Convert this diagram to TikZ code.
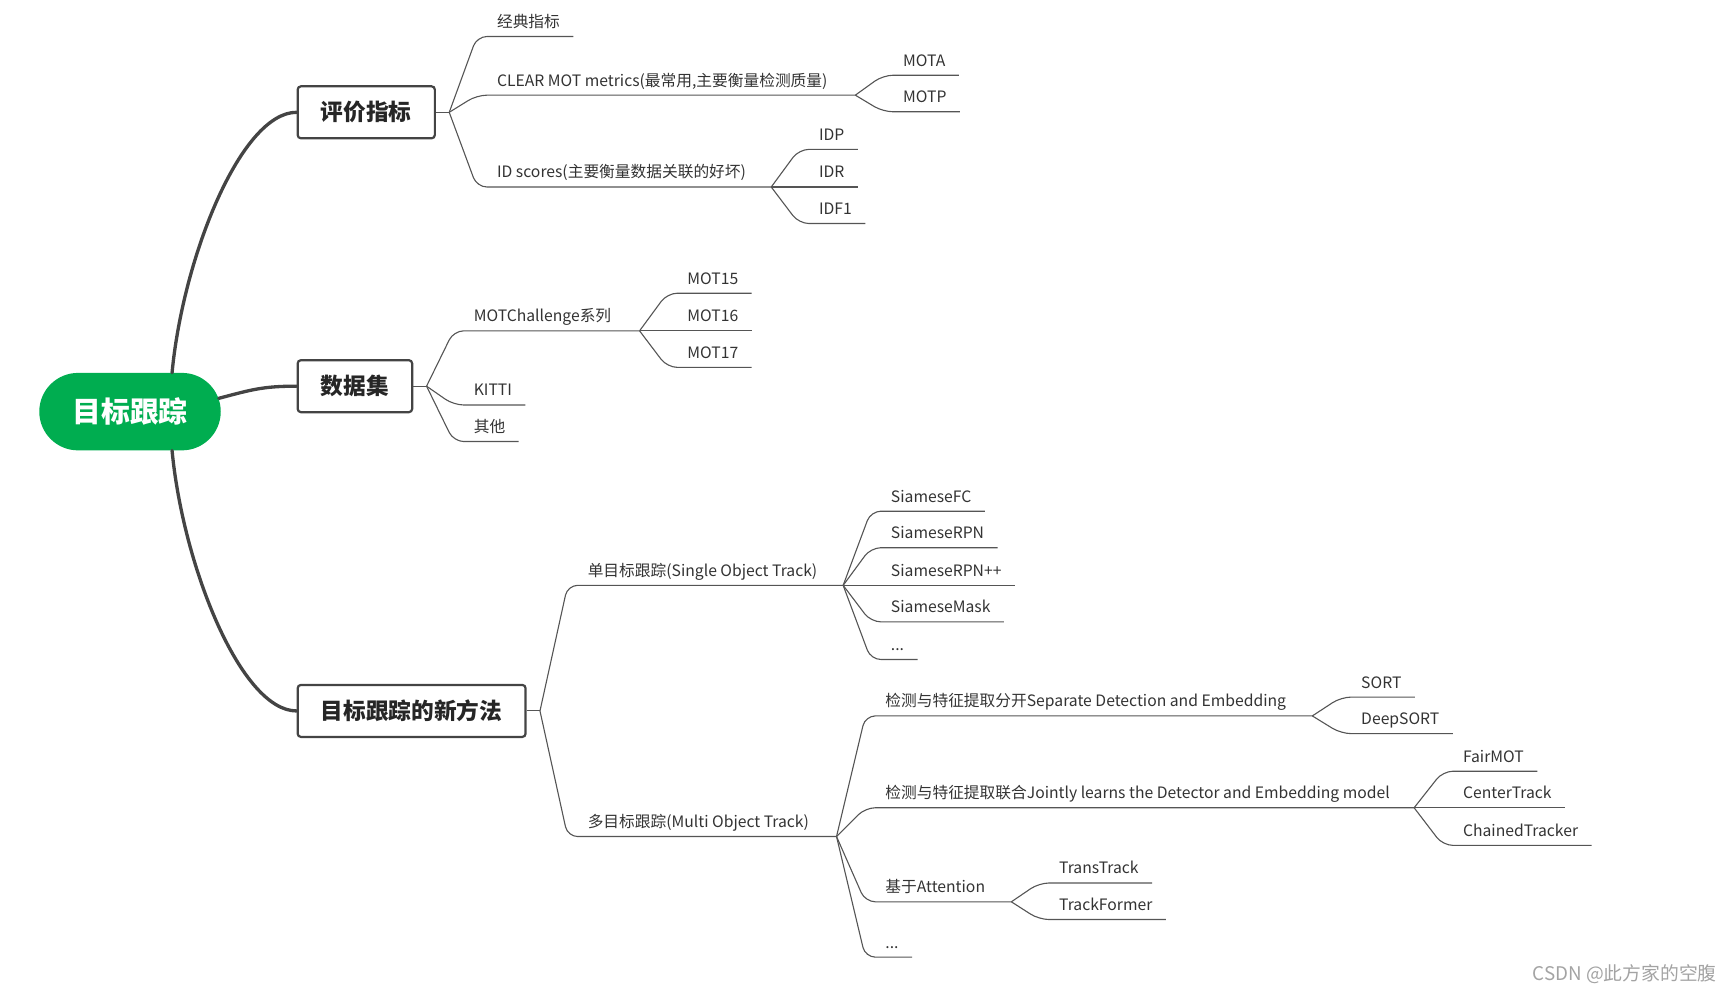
\documentclass[tikz,border=0pt]{standalone}
\usepackage{fontspec}
\setmainfont{Noto Sans CJK SC}
\usepackage{tikz}
\usetikzlibrary{calc}
\definecolor{rootgreen}{HTML}{00AD50}
\definecolor{inkgray}{HTML}{333333}
\definecolor{boxink}{HTML}{262626}
\definecolor{linegray}{HTML}{444444}
\definecolor{twiggray}{HTML}{555555}
\definecolor{markgray}{HTML}{A3A3A3}

\begin{document}
\begin{tikzpicture}[x=1pt, y=-1pt,
    root/.style={fill=rootgreen, text=white, rounded corners=35pt,
      minimum height=70pt, inner xsep=30pt,
      font=\fontsize{26}{30}\selectfont\bfseries},
    topic/.style={draw=linegray, line width=2pt, fill=white,
      rounded corners=3pt, minimum height=47pt, inner xsep=21pt,
      anchor=west, text=boxink, font=\fontsize{20.5}{24}\selectfont\bfseries},
    leaf/.style={anchor=south west, inner xsep=12pt, inner ysep=5pt,
      text height=11pt, text depth=3pt, text=inkgray,
      font=\fontsize{14.2}{17}\selectfont},
    trunk/.style={line width=3pt, draw=linegray, line cap=round},
    twig/.style={line width=1pt, draw=twiggray, rounded corners=9pt},
    watermark/.style={anchor=east, text=markgray,
      font=\fontsize{17}{20}\selectfont},
]
\useasboundingbox (0,0) rectangle (1568,897);
% Root and main topics
\node[root] (track) at (117.5,372) {目标跟踪};
\node[topic] (metric) at (268,101.5) {评价指标};
\node[topic] (dataset) at (268,349) {数据集};
\node[topic] (newmeth) at (268,642.5) {目标跟踪的新方法};
\coordinate (fm) at ($(metric.east)+(12,0)$);
\coordinate (fd) at ($(dataset.east)+(12,0)$);
\coordinate (fn) at ($(newmeth.east)+(12,0)$);
% Metrics
\node[leaf] (classic) at (437,33) {经典指标};
\node[leaf] (clear) at (437,86) {CLEAR MOT metrics(最常用,主要衡量检测质量)};
\node[leaf] (idscore) at (437,169) {ID scores(主要衡量数据关联的好坏)};
\coordinate (fclear) at (773,86);
\coordinate (fid) at (697,169);
\node[leaf] (mota) at (804,68) {MOTA};
\node[leaf] (motp) at (804,101) {MOTP};
\node[leaf] (idp) at (728,135) {IDP};
\node[leaf] (idr) at (728,169) {IDR};
\node[leaf] (idf) at (728,202) {IDF1};
% Datasets
\node[leaf] (motc) at (416,299) {MOTChallenge系列};
\node[leaf] (kitti) at (416,366) {KITTI};
\node[leaf] (other) at (416,399) {其他};
\coordinate (fmotc) at (578,299);
\node[leaf] (mot15) at (609,265) {MOT15};
\node[leaf] (mot16) at (609,299) {MOT16};
\node[leaf] (mot17) at (609,332) {MOT17};
% New methods
\node[leaf] (sot) at (519,529) {单目标跟踪(Single Object Track)};
\node[leaf] (mot) at (519,756) {多目标跟踪(Multi Object Track)};
\coordinate (fsot) at (762,529);
\coordinate (fmot) at (756,756);
\node[leaf] (sfc) at (793,462) {SiameseFC};
\node[leaf] (srpn) at (793,495) {SiameseRPN};
\node[leaf] (srpnpp) at (793,529) {SiameseRPN++};
\node[leaf] (smask) at (793,562) {SiameseMask};
\node[leaf] (sdots) at (793,596) {...};
\node[leaf] (sep) at (788,647) {检测与特征提取分开Separate Detection and Embedding};
\node[leaf] (joint) at (788,730) {检测与特征提取联合Jointly learns the Detector and Embedding model};
\node[leaf] (attn) at (788,815) {基于Attention};
\node[leaf] (mdots) at (788,865) {...};
\coordinate (fsep) at (1186,647);
\coordinate (fjoint) at (1278,730);
\coordinate (fattn) at (914,815);
\node[leaf] (sort) at (1218,630) {SORT};
\node[leaf] (dsort) at (1218,663) {DeepSORT};
\node[leaf] (fair) at (1310,697) {FairMOT};
\node[leaf] (center) at (1310,730) {CenterTrack};
\node[leaf] (chained) at (1310,764) {ChainedTracker};
\node[leaf] (trans) at (945,798) {TransTrack};
\node[leaf] (former) at (945,831) {TrackFormer};
\node[watermark] (csdn) at (1555,880) {CSDN @此方家的空腹};
% Trunks
\draw[trunk] ($(track.north)+(38,0)$) .. controls +(10,-105) and +(-50,0) .. (metric.west);
\draw[trunk] ($(track.east)+(-2,-12)$) .. controls +(30,-8) and +(-30,0) .. (dataset.west);
\draw[trunk] ($(track.south)+(38,0)$) .. controls +(10,105) and +(-50,0) .. (newmeth.west);
% Twigs
\draw[twig] (metric.east) -- (fm);
\draw[twig] (fm) -- ([xshift=-6pt]classic.south west) -- (classic.south east);
\draw[twig] (fm) -- ([xshift=-6pt]clear.south west) -- (fclear);
\draw[twig] (fm) -- ([xshift=-6pt]idscore.south west) -- (fid);
\draw[twig] (fclear) -- ([xshift=-6pt]mota.south west) -- (mota.south east);
\draw[twig] (fclear) -- ([xshift=-6pt]motp.south west) -- (motp.south east);
\draw[twig] (fid) -- ([xshift=-6pt]idp.south west) -- (idp.south east);
\draw[twig] (fid) -- (idr.south east);
\draw[twig] (fid) -- ([xshift=-6pt]idf.south west) -- (idf.south east);
\draw[twig] (dataset.east) -- (fd);
\draw[twig] (fd) -- ([xshift=-6pt]motc.south west) -- (fmotc);
\draw[twig] (fd) -- ([xshift=-6pt]kitti.south west) -- (kitti.south east);
\draw[twig] (fd) -- ([xshift=-6pt]other.south west) -- (other.south east);
\draw[twig] (fmotc) -- ([xshift=-6pt]mot15.south west) -- (mot15.south east);
\draw[twig] (fmotc) -- (mot16.south east);
\draw[twig] (fmotc) -- ([xshift=-6pt]mot17.south west) -- (mot17.south east);
\draw[twig] (newmeth.east) -- (fn);
\draw[twig] (fn) -- ([xshift=-6pt]sot.south west) -- (fsot);
\draw[twig] (fn) -- ([xshift=-6pt]mot.south west) -- (fmot);
\draw[twig] (fsot) -- ([xshift=-6pt]sfc.south west) -- (sfc.south east);
\draw[twig] (fsot) -- ([xshift=-6pt]srpn.south west) -- (srpn.south east);
\draw[twig] (fsot) -- (srpnpp.south east);
\draw[twig] (fsot) -- ([xshift=-6pt]smask.south west) -- (smask.south east);
\draw[twig] (fsot) -- ([xshift=-6pt]sdots.south west) -- (sdots.south east);
\draw[twig] (fmot) -- ([xshift=-6pt]sep.south west) -- (fsep);
\draw[twig] (fmot) -- ([xshift=-6pt]joint.south west) -- (fjoint);
\draw[twig] (fmot) -- ([xshift=-6pt]attn.south west) -- (fattn);
\draw[twig] (fmot) -- ([xshift=-6pt]mdots.south west) -- (mdots.south east);
\draw[twig] (fsep) -- ([xshift=-6pt]sort.south west) -- (sort.south east);
\draw[twig] (fsep) -- ([xshift=-6pt]dsort.south west) -- (dsort.south east);
\draw[twig] (fjoint) -- ([xshift=-6pt]fair.south west) -- (fair.south east);
\draw[twig] (fjoint) -- (center.south east);
\draw[twig] (fjoint) -- ([xshift=-6pt]chained.south west) -- (chained.south east);
\draw[twig] (fattn) -- ([xshift=-6pt]trans.south west) -- (trans.south east);
\draw[twig] (fattn) -- ([xshift=-6pt]former.south west) -- (former.south east);
\end{tikzpicture}
\end{document}
